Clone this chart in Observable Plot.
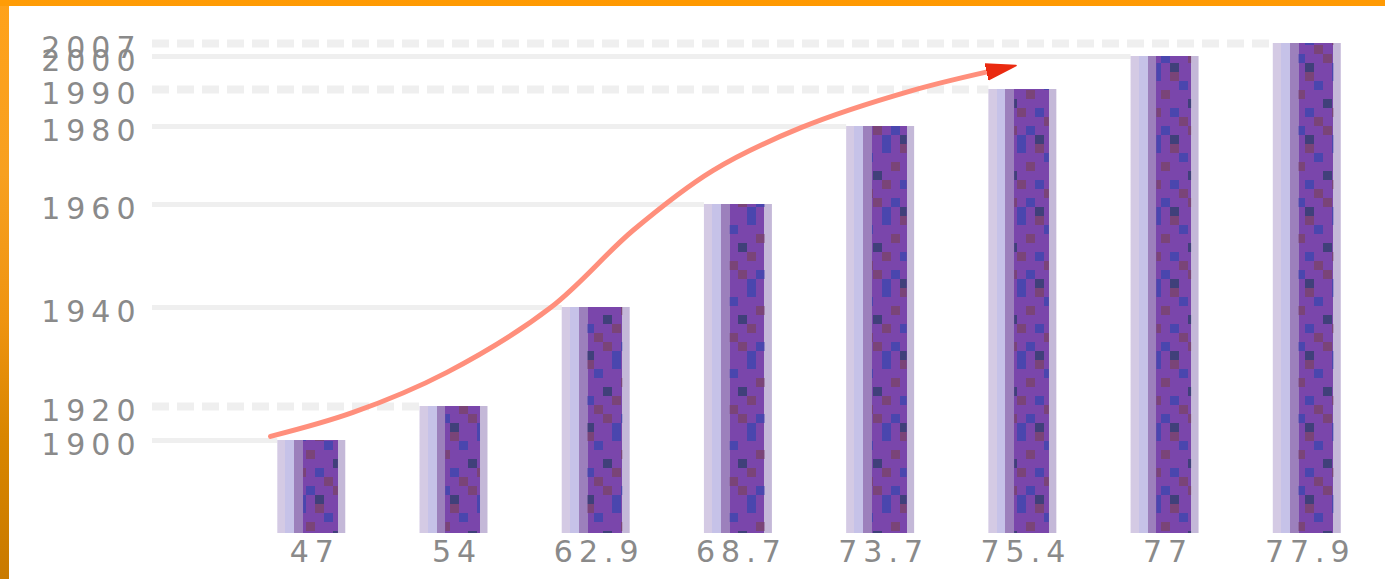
<!DOCTYPE html>
<html>
<head>
<meta charset="utf-8">
<script src="https://cdn.jsdelivr.net/npm/d3@7"></script>
<script src="https://cdn.jsdelivr.net/npm/@observablehq/plot@0.6"></script>
<style>
  html, body { margin: 0; padding: 0; background: #ffffff; overflow: hidden; }
  #wrap { position: relative; width: 1385px; height: 579px; background: #ffffff; }
  #chart { position: absolute; left: 0; top: 0; }
  #frameTop { position: absolute; left: 0; top: 0; width: 1385px; height: 6px;
    background: linear-gradient(90deg, #ff9c06 0%, #ff9900 50%, #ff9a04 100%); }
  #frameLeft { position: absolute; left: 0; top: 0; width: 9px; height: 579px;
    background: linear-gradient(180deg, #ffa21a 0%, #f7a020 30%, #ef9410 55%, #d98600 75%, #c97a00 100%); }
</style>
</head>
<body>
<div id="wrap">
  <div id="chart"></div>
  <div id="frameLeft"></div>
  <div id="frameTop"></div>
</div>
<script>
// ---- data ----
const lifeExpectancy = [47, 54, 62.9, 68.7, 73.7, 75.4, 77, 77.9];     // x-axis labels (categories)
const years = [1900, 1920, 1940, 1960, 1980, 1990, 2000, 2007];          // bar values / y tick labels
const dashedYears = [1920, 1990, 2007];                                  // guide lines drawn dashed
// trend arrow (category position, year)
const trendPos  = [-0.29, 0.29, 0.95, 1.68, 2.26, 2.82, 3.44, 4.22, 4.86];
const trendYear = [1902.4, 1916.5, 1926.9, 1940, 1955, 1968.7, 1979.7, 1989.7, 1996.4];

// ---- scale set-up ----
const yFloor = 1880;                 // floor of the value axis (bar base)
const half = 0.239;                  // half bar width in category units
const xMin = -1.12, xMax = 7.55;
// the value axis of the original is uneven: piecewise mapping of years onto axis height
const yearAxis = d3.scaleLinear()
  .domain([yFloor, ...years])
  .range([0, 93, 127, 226, 329, 407, 444, 477, 490]);

const idx = d3.range(lifeExpectancy.length);
const trend = trendPos.map((p, k) => ({p, y: trendYear[k]}));

const chart = Plot.plot({
  width: 1385,
  height: 579,
  marginLeft: 152,
  marginRight: 0,
  marginTop: 43,
  marginBottom: 46,
  style: {fontFamily: "'DejaVu Sans', sans-serif", fontSize: "30px", color: "#8a8a8a", background: "transparent", letterSpacing: "6px"},
  x: {domain: [xMin, xMax], label: null},
  y: {transform: yearAxis, domain: [0, 490], label: null, axis: null},
  marks: [
    // guide lines from axis to bar tops
    Plot.ruleY(idx.filter(i => !dashedYears.includes(years[i])), {
      y: i => years[i], x1: xMin, x2: i => i - half,
      stroke: "#efefef", strokeWidth: 5
    }),
    Plot.ruleY(idx.filter(i => dashedYears.includes(years[i])), {
      y: i => years[i], x1: xMin, x2: i => i - half,
      stroke: "#efefef", strokeWidth: 8, strokeDasharray: "17,8"
    }),
    // bars
    Plot.rectY(idx, {
      x1: i => i - half, x2: i => i + half, y1: yFloor, y2: i => years[i],
      fill: "url(#barShade)"
    }),
    Plot.rectY(idx, {
      x1: i => i - half + 0.38 * 2 * half, x2: i => i + half - 0.11 * 2 * half,
      y1: yFloor, y2: i => years[i],
      fill: "url(#barTex)"
    }),
    // trend arrow
    Plot.line(trend, {
      x: "p", y: "y", curve: "catmull-rom",
      stroke: "#ff8f7c", strokeWidth: 5, markerEnd: "arrow"
    }),
    // year labels on the value axis
    Plot.text(idx, {
      x: xMin, y: i => years[i], text: i => String(years[i]),
      textAnchor: "end", dx: -11, dy: 5, fill: "#8a8a8a"
    }),
    Plot.axisX({ticks: idx, tickSize: 0, tickPadding: 7, dx: 3, tickFormat: i => String(lifeExpectancy[i]), fill: "#8a8a8a"})
  ]
});

document.getElementById("chart").appendChild(chart);

// ---- bar shading gradient + texture pattern ----
const svg = d3.select(chart);
const defs = svg.insert("defs", ":first-child");
const g = defs.append("linearGradient").attr("id", "barShade")
  .attr("x1", "0").attr("x2", "1").attr("y1", "0").attr("y2", "0");
[
  [0.00, "#d4cae4"], [0.12, "#d4cae4"],
  [0.12, "#c6c2e8"], [0.25, "#c6c2e8"],
  [0.25, "#9c80bc"], [0.38, "#9c80bc"],
  [0.38, "#7a46ab"], [0.89, "#7a46ab"],
  [0.89, "#c4b8d8"], [1.00, "#c4b8d8"]
].forEach(([o, c]) => g.append("stop").attr("offset", o).attr("stop-color", c));

const pat = defs.append("pattern").attr("id", "barTex")
  .attr("patternUnits", "userSpaceOnUse").attr("width", 45).attr("height", 72);
const cells = [
  [0, 0, "#7a4478"], [3, 0, "#4a46ae"], [1, 1, "#4a46ae"], [4, 2, "#7a4478"],
  [2, 3, "#40407a"], [0, 4, "#4a46ae"], [3, 4, "#7a4478"], [1, 5, "#7a4478"],
  [4, 6, "#4a46ae"], [2, 6, "#7a4478"], [0, 7, "#40407a"], [3, 7, "#4a46ae"]
];
cells.forEach(([cx, cy, c]) => pat.append("rect")
  .attr("x", cx * 9).attr("y", cy * 9).attr("width", 9).attr("height", 9).attr("fill", c));

// arrow head: filled red triangle
svg.selectAll("marker path")
  .attr("d", "M-5,-2.4L4,0L-5,2.4Z")
  .attr("fill", "#ea2a10").attr("stroke", "#ea2a10").attr("stroke-width", 0.5);
</script>
</body>
</html>
